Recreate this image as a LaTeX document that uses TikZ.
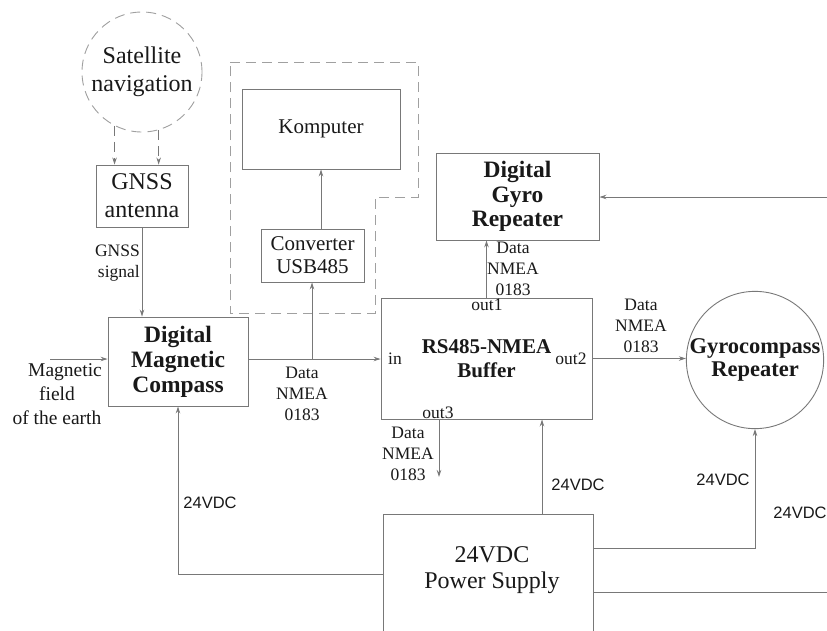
\documentclass[tikz,border=0pt]{standalone}
\usepackage{fontspec}
\setmainfont{Liberation Serif}
\newfontfamily\sansf{Liberation Sans}
\usetikzlibrary{arrows.meta}
\definecolor{ln}{RGB}{120,120,120}
\definecolor{dl}{RGB}{160,160,160}
\definecolor{tx}{RGB}{25,25,25}
\tikzset{
  box/.style={draw=ln, line width=0.9pt, inner sep=0pt, text=tx, align=center},
  conn/.style={draw=ln, line width=0.9pt, -{Stealth[length=7pt,width=4.5pt]}},
  plain/.style={draw=ln, line width=0.9pt},
  dsh/.style={draw=dl, line width=0.9pt, dash pattern=on 10pt off 6pt},
  lbl/.style={text=tx, align=center, inner sep=0pt, font=\fontsize{17.5}{21}\selectfont},
  vlbl/.style={text=tx, inner sep=0pt, font=\sansf\fontsize{16.5}{20}\selectfont},
}
\begin{document}
\begin{tikzpicture}[x=1pt,y=-1pt]
\clip (0,0) rectangle (827,630);
\fill[white] (0,0) rectangle (827,630);

% dashed computer region
\draw[dsh] (230,62) -- (418,62) -- (418,197) -- (375,197) -- (375,313) -- (230,313) -- cycle;

% nodes
\node[box, draw=dl, dash pattern=on 10pt off 6pt, circle, minimum size=120pt, font=\fontsize{24}{28}\selectfont] (sat) at (142,72) {Satellite\\navigation};
\node[box, minimum width=92pt, minimum height=62pt, font=\fontsize{24}{28}\selectfont] (gnss) at (142,196) {GNSS\\antenna};
\node[box, minimum width=140pt, minimum height=89pt, font=\bfseries\fontsize{23.5}{25}\selectfont] (dmc) at (178,361.5) {Digital\\Magnetic\\Compass};
\node[box, minimum width=158pt, minimum height=80pt, font=\fontsize{21}{24}\selectfont] (komp) at (321,129) {Komputer};
\node[box, minimum width=103pt, minimum height=53pt, font=\fontsize{21}{23}\selectfont] (conv) at (312.5,255.5) {Converter\\USB485};
\node[box, minimum width=211pt, minimum height=121pt, font=\bfseries\fontsize{21}{24}\selectfont] (buf) at (486.5,358.5) {RS485-NMEA\\Buffer};
\node[box, minimum width=163pt, minimum height=87pt, font=\bfseries\fontsize{23.5}{24.5}\selectfont] (dgr) at (517.5,196.5) {Digital\\Gyro\\Repeater};
\node[box, circle, minimum size=136pt, font=\bfseries\fontsize{22.5}{23}\selectfont] (gyro) at (755,360) {Gyrocompass\\Repeater};
\node[box, minimum width=210pt, minimum height=140pt] (ps) at (488,584) {};
\node[text=tx, align=center, inner sep=0pt, font=\fontsize{24}{26}\selectfont] (pst) at (492,570) {24VDC\\Power Supply};

% coordinates
\coordinate (j) at (312,359);
\coordinate (c1) at (321,0);
\coordinate (mf) at (50,359);
\coordinate (re1) at (827,197);
\coordinate (o3) at (439,477);
\coordinate (p1) at (542,0);
\coordinate (k2) at (755,548);
\coordinate (re2) at (827,592);
\coordinate (k3) at (178,574);

% connectors
\draw[dsh, -{Stealth[length=7pt,width=4.5pt]}, draw=ln] (sat.243) -- (sat.243 |- gnss.north);
\draw[dsh, -{Stealth[length=7pt,width=4.5pt]}, draw=ln] (sat.286.5) -- (sat.286.5 |- gnss.north);
\draw[conn] (gnss.south) -- (gnss.south |- dmc.north);
\draw[conn] (mf) -- (mf -| dmc.west);
\draw[conn] (j -| dmc.east) -- (j -| buf.west);
\draw[conn] (j) -- (j |- conv.south);
\draw[conn] (c1 |- conv.north) -- (c1 |- komp.south);
\draw[conn] (buf.north) -- (buf.north |- dgr.south);
\draw[conn] (re1) -- (re1 -| dgr.east);
\draw[conn] (buf.east) -- (buf.east -| gyro.west);
\draw[conn] (o3 |- buf.south) -- (o3);
\draw[conn] (p1 |- ps.north) -- (p1 |- buf.south);
\draw[conn] (k2 -| ps.east) -- (k2) -- (gyro.south);
\draw[plain] (re2 -| ps.east) -- (re2);
\draw[conn] (k3 -| ps.west) -- (k3) -- (dmc.south);

% labels
\node[lbl, anchor=east, align=right] (lgs) at (140,263) {GNSS\\signal};
\node[lbl, font=\fontsize{19.5}{24}\selectfont] (lmf) at (57,394) {\hspace*{16pt}Magnetic\\field\\of the earth};
\node[lbl] (ld1) at (302,394) {Data\\NMEA\\0183};
\node[lbl] (ld2) at (513,269) {Data\\NMEA\\0183};
\node[lbl] (ld3) at (641,326) {Data\\NMEA\\0183};
\node[lbl] (ld4) at (408,454) {Data\\NMEA\\0183};
\node[lbl, anchor=west] (lin) at (388,359) {in};
\node[lbl] (lo1) at (487,305) {out1};
\node[lbl] (lo2) at (571,359) {out2};
\node[lbl] (lo3) at (438,413) {out3};
\node[vlbl] (v1) at (210,503) {24VDC};
\node[vlbl] (v2) at (578,485) {24VDC};
\node[vlbl] (v3) at (723,480) {24VDC};
\node[vlbl] (v4) at (800,513) {24VDC};
\end{tikzpicture}
\end{document}
